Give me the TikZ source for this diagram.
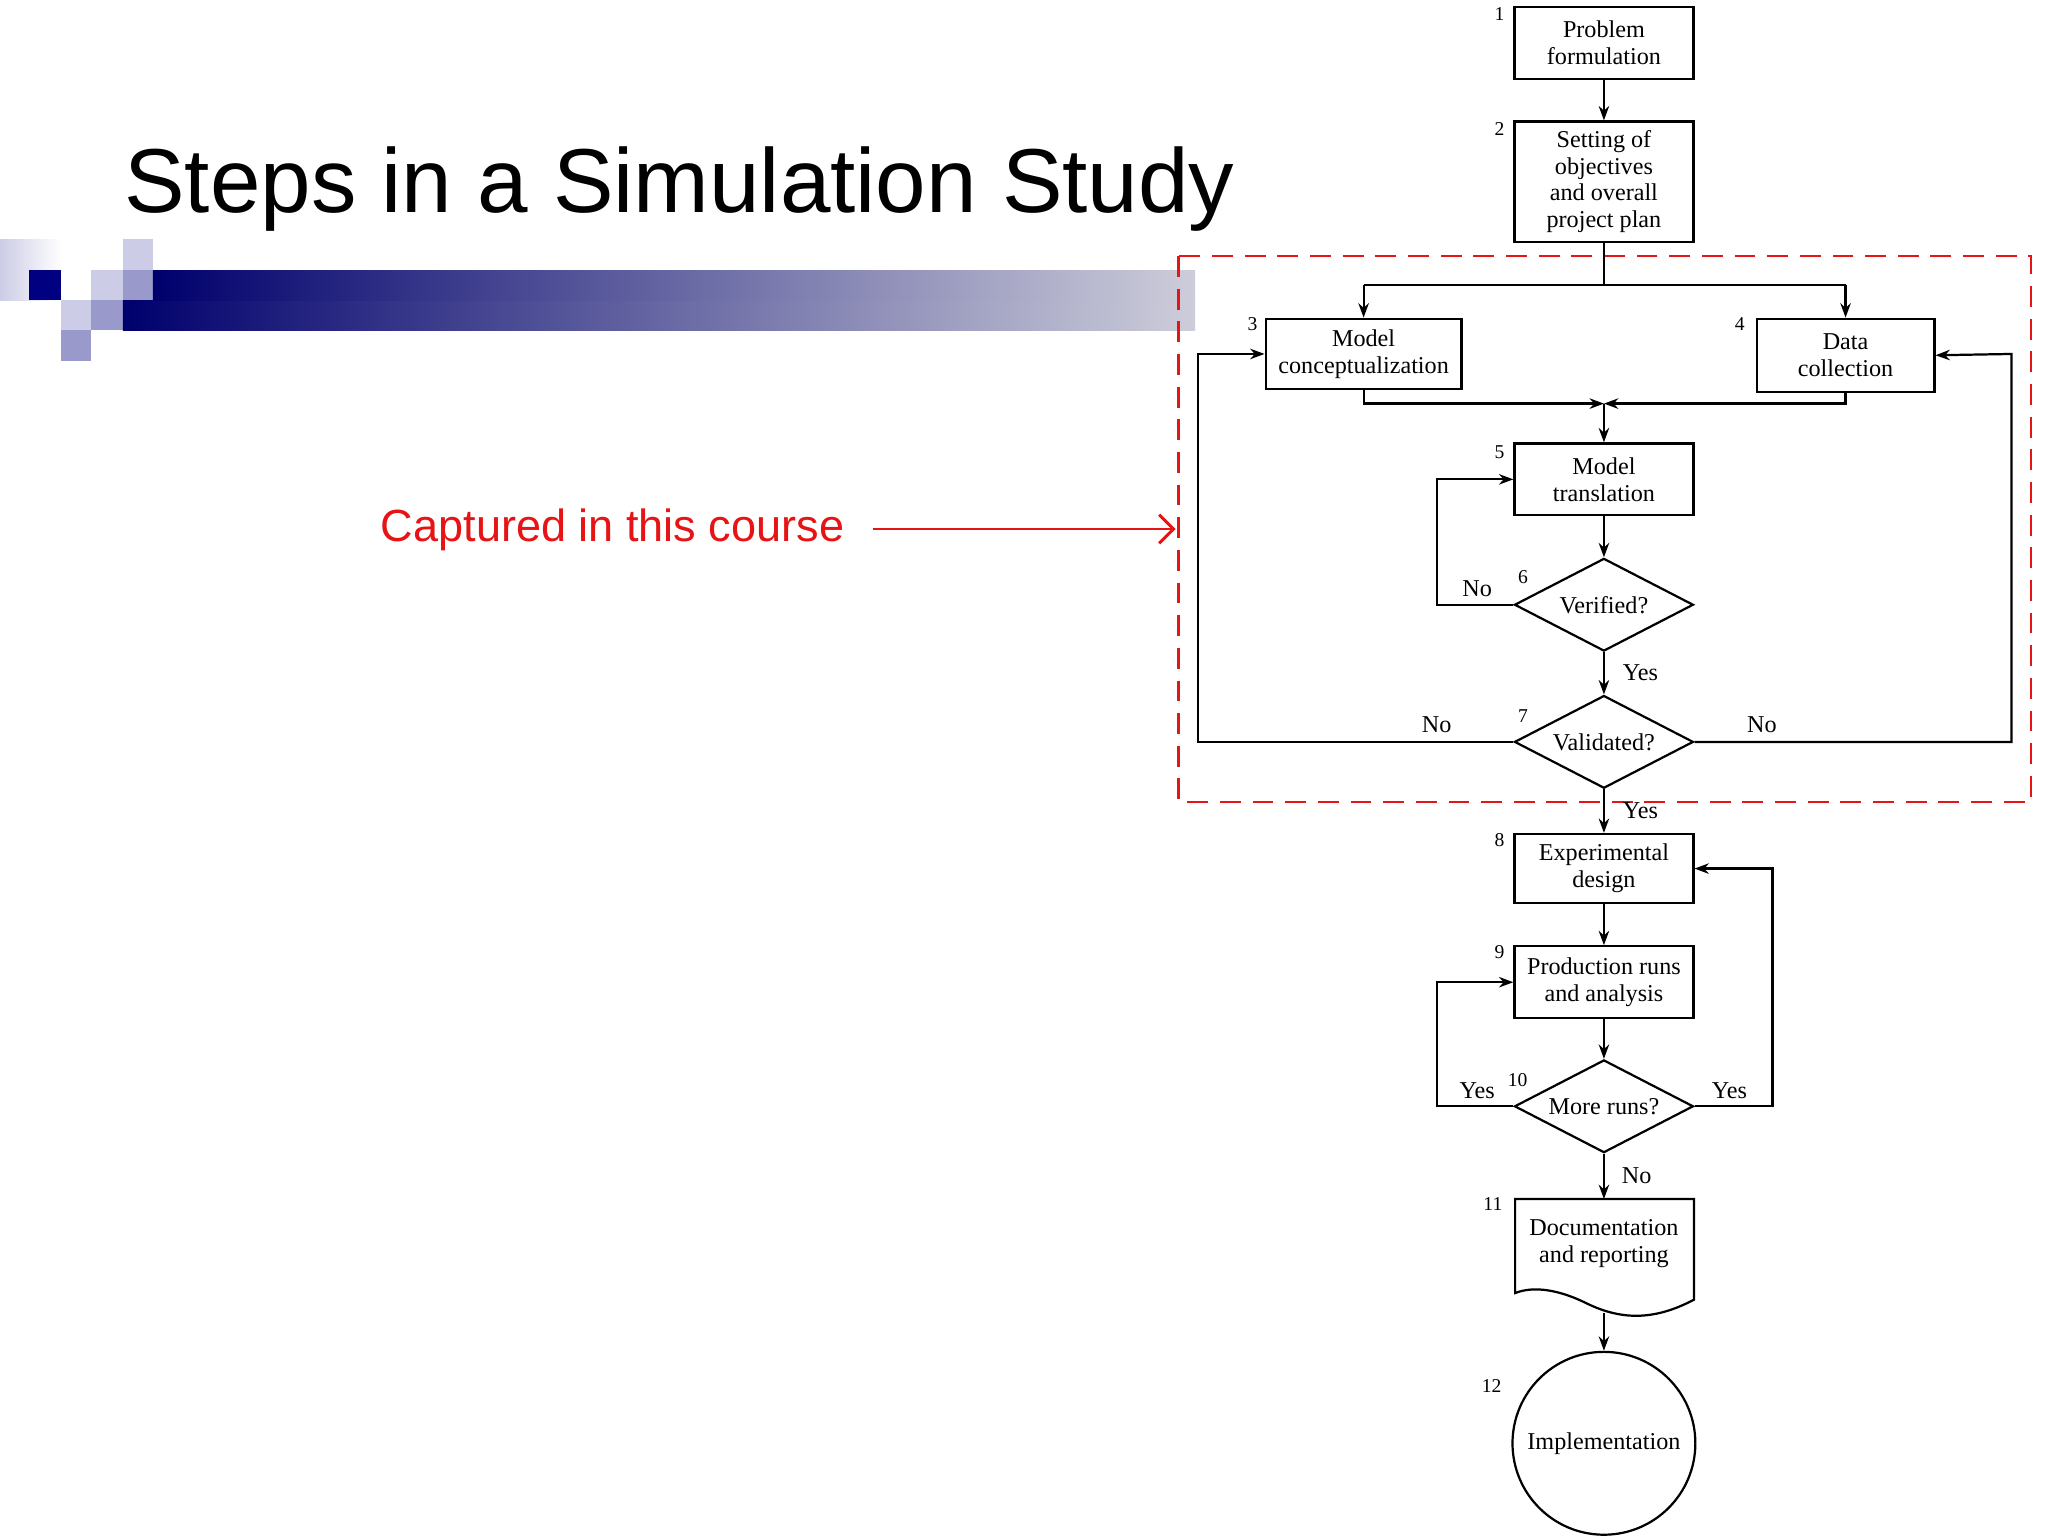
\documentclass[tikz,border=0pt]{standalone}
\usepackage{fontspec}
\setmainfont{Liberation Serif}
\newfontfamily\titlefont{Liberation Sans}
\usetikzlibrary{arrows.meta,shapes.geometric}
\definecolor{navy}{RGB}{0,0,128}
\definecolor{lav}{RGB}{204,204,230}
\definecolor{lavm}{RGB}{153,153,204}
\definecolor{barend}{RGB}{205,205,218}
\definecolor{redd}{RGB}{230,20,20}
\begin{document}
\begin{tikzpicture}[x=1pt,y=-1pt,
  box/.style={draw,line width=1.7pt,minimum width=137pt,align=center,font=\fontsize{18.5}{20.5}\selectfont,inner sep=2pt},
  dia/.style={draw,line width=1.7pt,diamond,aspect=1.95,minimum width=137pt,minimum height=71pt,inner sep=0pt,font=\fontsize{18.5}{20.5}\selectfont},
  lbl/.style={font=\fontsize{18.5}{20.5}\selectfont},
  num/.style={font=\fontsize{15}{17}\selectfont},
  ln/.style={line width=1.7pt},
  ar/.style={line width=1.7pt,-{Stealth[length=11pt,width=8pt]}}]
\useasboundingbox (0,0) rectangle (1568,1176);
\fill[white] (0,0) rectangle (1568,1176);
% logo
\shade[left color=lav,right color=white] (0,183) rectangle (47,230);
\fill[navy] (22,207) rectangle (47,230);
\fill[lav] (47,230) rectangle (70,253);
\fill[lavm] (47,253) rectangle (70,276);
\fill[lav] (70,207) rectangle (94,230);
\fill[lavm] (70,230) rectangle (94,253);
\fill[lav] (94,183) rectangle (117,207);
\fill[lavm] (94,207) rectangle (117,230);
\shade[left color=navy!85!black,right color=barend] (94,230) rectangle (915,253);
\shade[left color=navy!85!black,right color=barend] (117,207) rectangle (915,230);
\node[anchor=west,font=\titlefont\fontsize{69.5}{76}\selectfont,inner sep=0] (title) at (95,145) {Steps in a Simulation Study};
% red
\draw[redd,line width=2.2pt,dash pattern=on 16pt off 9pt] (902,196) rectangle (1555,614);
\node[font=\titlefont\fontsize{34.5}{38}\selectfont,text=redd] (cap) at (469,406) {Captured in this course};
\coordinate (capend) at (900,405);
\draw[redd,line width=2.2pt,-{Straight Barb[length=11pt]}] (668,405) -- (capend);
% nodes
\node[box,minimum height=55pt] (b1) at (1228,33) {Problem\\formulation};
\node[box,minimum height=92pt] (b2) at (1228,139) {Setting of\\objectives\\and overall\\project plan};
\node[box,minimum width=150pt,minimum height=54pt] (b3) at (1044,271) {Model\\conceptualization};
\node[box,minimum width=136pt,minimum height=56pt] (b4) at (1413,272) {Data\\collection};
\node[box,minimum height=55pt] (b5) at (1228,367) {Model\\translation};
\node[dia] (d6) at (1228,463) {Verified?};
\node[dia] (d7) at (1228,568) {Validated?};
\node[box,minimum height=53pt] (b8) at (1228,665) {Experimental\\design};
\node[box,minimum height=55pt] (b9) at (1228,752) {Production runs\\and analysis};
\node[dia] (d10) at (1228,847) {More runs?};
\draw[line width=1.7pt] (1160,918) -- (1297,918) -- (1297,995) .. controls (1265,1012) and (1240,1010) .. (1215,998) .. controls (1195,988) and (1175,984) .. (1160,990) -- cycle;
\node[lbl,align=center] (b11) at (1228,952) {Documentation\\and reporting};
\coordinate (b11b) at (1228,1005);
\node[draw,line width=1.7pt,circle,minimum size=140pt,inner sep=0,lbl] (c12) at (1228,1105) {Implementation};
% numbers
\node[num] (n1) at (1148,11) {1};
\node[num] (n2) at (1148,99) {2};
\node[num] (n3) at (959,248) {3};
\node[num] (n4) at (1332,248) {4};
\node[num] (n5) at (1148,346) {5};
\node[num] (n6) at (1166,442) {6};
\node[num] (n7) at (1166,548) {7};
\node[num] (n8) at (1148,643) {8};
\node[num] (n9) at (1148,729) {9};
\node[num] (n10) at (1162,827) {10};
\node[num] (n11) at (1143,922) {11};
\node[num] (n12) at (1142,1061) {12};
% labels
\node[lbl] (l1) at (1131,451) {No};
\node[lbl] (l2) at (1256,515) {Yes};
\node[lbl] (l3) at (1100,555) {No};
\node[lbl] (l4) at (1349,555) {No};
\node[lbl] (l5) at (1256,621) {Yes};
\node[lbl] (l6) at (1131,835) {Yes};
\node[lbl] (l7) at (1324,835) {Yes};
\node[lbl] (l8) at (1253,900) {No};
% connectors
\draw[ar] (b1) -- (b2);
\draw[ln] (b2.south) -- (1228,218);
\draw[ln] (1044,218) -- (1413,218);
\draw[ar] (1044,218) -- (b3.north);
\draw[ar] (1413,218) -- (b4.north);
\draw[ar] (b3.south) -- (1044,309) -- (1228,309);
\draw[ar] (b4.south) -- (1413,309) -- (1228,309);
\draw[ar] (1228,309) -- (b5.north);
\draw[ar] (b5) -- (d6);
\draw[ar] (d6.west) -- (1100,463) -- (1100,367) -- (b5.west);
\draw[ar] (d6) -- (d7);
\draw[ar] (d7.west) -- (917,568) -- (917,271) -- (b3.west);
\draw[ar] (d7.east) -- (1540,568) -- (1540,271) -- (b4.east);
\draw[ar] (d7) -- (b8);
\draw[ar] (b8) -- (b9);
\draw[ar] (b9) -- (d10);
\draw[ar] (d10.west) -- (1100,847) -- (1100,752) -- (b9.west);
\draw[ar] (d10.east) -- (1357,847) -- (1357,665) -- (b8.east);
\draw[ar] (d10.south) -- (1228,918);
\draw[ar] (b11b) -- (c12.north);
\end{tikzpicture}
\end{document}
